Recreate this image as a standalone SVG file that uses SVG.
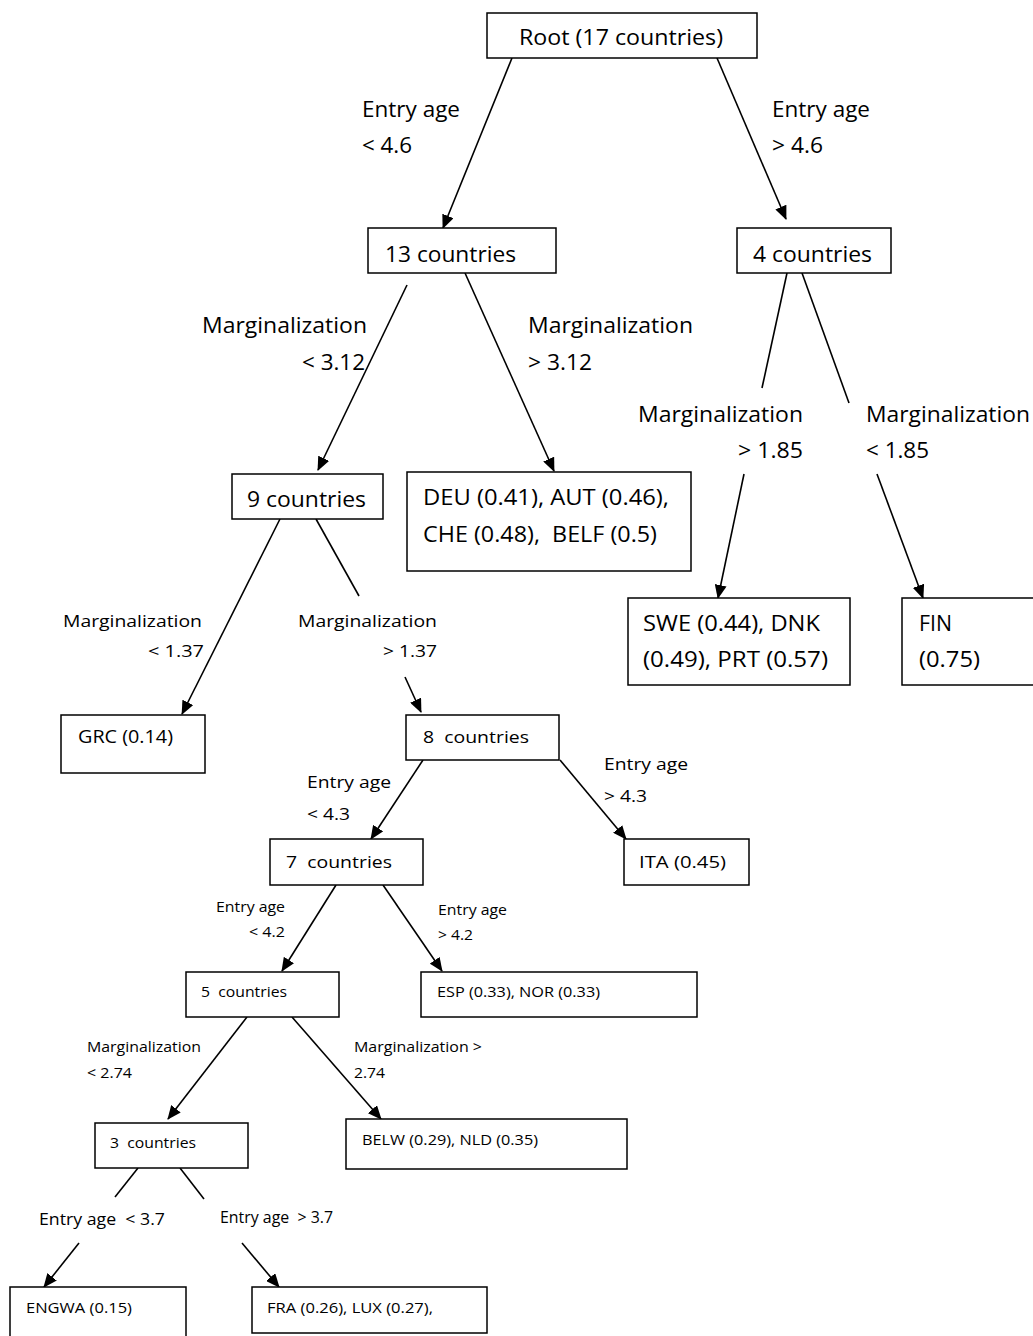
<svg xmlns="http://www.w3.org/2000/svg" width="1033" height="1336" viewBox="0 0 1033 1336">
<style>
rect.box{fill:#fff;stroke:#000;stroke-width:1.5}
text{font-family:"Open Sans","Liberation Sans",sans-serif;fill:#000;white-space:pre}
.l{font-size:22px}
.m{font-size:17px}
.s{font-size:15px}
#connectors line{stroke:#000;stroke-width:1.6}
line.a{marker-end:url(#arr)}
</style>
<defs>
<marker id="arr" markerUnits="userSpaceOnUse" markerWidth="14" markerHeight="12" viewBox="0 0 14 12" refX="13" refY="6" orient="auto">
<path d="M0,0 L14,6 L0,12 z" fill="#000"/>
</marker>
</defs>
<rect width="1033" height="1336" fill="#fff"/>
<g id="connectors">
<line class="a" x1="512" y1="58" x2="443" y2="228"/>
<line class="a" x1="717" y1="58" x2="786" y2="219"/>
<line class="a" x1="407" y1="285" x2="318" y2="470"/>
<line class="a" x1="465" y1="273" x2="554" y2="471"/>
<line x1="787" y1="273" x2="762" y2="388"/>
<line class="a" x1="744" y1="474" x2="718" y2="598"/>
<line x1="802" y1="273" x2="849" y2="403"/>
<line class="a" x1="877" y1="474" x2="923" y2="598"/>
<line class="a" x1="280" y1="519" x2="182" y2="714"/>
<line x1="316" y1="519" x2="359" y2="596"/>
<line class="a" x1="405" y1="677" x2="421" y2="712"/>
<line class="a" x1="423" y1="760" x2="371" y2="839"/>
<line class="a" x1="560" y1="760" x2="626" y2="839"/>
<line class="a" x1="336" y1="885" x2="282" y2="971"/>
<line class="a" x1="383" y1="885" x2="442" y2="971"/>
<line class="a" x1="247" y1="1017" x2="168" y2="1119"/>
<line class="a" x1="292" y1="1017" x2="381" y2="1119"/>
<line x1="138" y1="1168" x2="115" y2="1197"/>
<line x1="180" y1="1168" x2="204" y2="1199"/>
<line class="a" x1="79" y1="1243" x2="44" y2="1287"/>
<line class="a" x1="242" y1="1243" x2="279" y2="1287"/>
</g>
<g id="edge-labels">
<text class="l" x="362" y="117" textLength="98" lengthAdjust="spacingAndGlyphs">Entry age</text>
<text class="l" x="362" y="153" textLength="50" lengthAdjust="spacingAndGlyphs">&lt; 4.6</text>
<text class="l" x="772" y="117" textLength="98" lengthAdjust="spacingAndGlyphs">Entry age</text>
<text class="l" x="772" y="153" textLength="51" lengthAdjust="spacingAndGlyphs">&gt; 4.6</text>
<text class="l" x="202" y="333" textLength="165" lengthAdjust="spacingAndGlyphs">Marginalization</text>
<text class="l" x="302" y="370" textLength="63" lengthAdjust="spacingAndGlyphs">&lt; 3.12</text>
<text class="l" x="528" y="333" textLength="165" lengthAdjust="spacingAndGlyphs">Marginalization</text>
<text class="l" x="528" y="370" textLength="64" lengthAdjust="spacingAndGlyphs">&gt; 3.12</text>
<text class="l" x="638" y="422" textLength="165" lengthAdjust="spacingAndGlyphs">Marginalization</text>
<text class="l" x="738" y="458" textLength="65" lengthAdjust="spacingAndGlyphs">&gt; 1.85</text>
<text class="l" x="866" y="422" textLength="164" lengthAdjust="spacingAndGlyphs">Marginalization</text>
<text class="l" x="866" y="458" textLength="63" lengthAdjust="spacingAndGlyphs">&lt; 1.85</text>
<text class="m" x="63" y="627" textLength="139" lengthAdjust="spacingAndGlyphs">Marginalization</text>
<text class="m" x="148" y="657" textLength="56" lengthAdjust="spacingAndGlyphs">&lt; 1.37</text>
<text class="m" x="298" y="627" textLength="139" lengthAdjust="spacingAndGlyphs">Marginalization</text>
<text class="m" x="383" y="657" textLength="54" lengthAdjust="spacingAndGlyphs">&gt; 1.37</text>
<text class="m" x="307" y="788" textLength="84" lengthAdjust="spacingAndGlyphs">Entry age</text>
<text class="m" x="307" y="820" textLength="43" lengthAdjust="spacingAndGlyphs">&lt; 4.3</text>
<text class="m" x="604" y="770" textLength="84" lengthAdjust="spacingAndGlyphs">Entry age</text>
<text class="m" x="604" y="802" textLength="43" lengthAdjust="spacingAndGlyphs">&gt; 4.3</text>
<text class="s" x="216" y="912" textLength="69" lengthAdjust="spacingAndGlyphs">Entry age</text>
<text class="s" x="249" y="937" textLength="36" lengthAdjust="spacingAndGlyphs">&lt; 4.2</text>
<text class="s" x="438" y="915" textLength="69" lengthAdjust="spacingAndGlyphs">Entry age</text>
<text class="s" x="438" y="940" textLength="35" lengthAdjust="spacingAndGlyphs">&gt; 4.2</text>
<text class="s" x="87" y="1052" textLength="114" lengthAdjust="spacingAndGlyphs">Marginalization</text>
<text class="s" x="87" y="1078" textLength="45" lengthAdjust="spacingAndGlyphs">&lt; 2.74</text>
<text class="s" x="354" y="1052" textLength="128" lengthAdjust="spacingAndGlyphs">Marginalization &gt;</text>
<text class="s" x="354" y="1078" textLength="31" lengthAdjust="spacingAndGlyphs">2.74</text>
<text class="m" x="39" y="1225" textLength="126" lengthAdjust="spacingAndGlyphs">Entry age  &lt; 3.7</text>
<text class="m" x="220" y="1223" textLength="113" lengthAdjust="spacingAndGlyphs" style="font-size:16px">Entry age  &gt; 3.7</text>
</g>
<g id="root"><rect class="box" x="487" y="13" width="270" height="45"/><text class="l" x="519" y="45" textLength="204" lengthAdjust="spacingAndGlyphs">Root (17 countries)</text></g>
<g id="n13"><rect class="box" x="368" y="228" width="188" height="45"/><text class="l" x="385" y="262" textLength="131" lengthAdjust="spacingAndGlyphs">13 countries</text></g>
<g id="n4"><rect class="box" x="737" y="228" width="154" height="45"/><text class="l" x="753" y="262" textLength="119" lengthAdjust="spacingAndGlyphs">4 countries</text></g>
<g id="n9"><rect class="box" x="232" y="474" width="151" height="45"/><text class="l" x="247" y="507" textLength="119" lengthAdjust="spacingAndGlyphs">9 countries</text></g>
<g id="deu"><rect class="box" x="407" y="472" width="284" height="99"/><text class="l" x="423" y="505" textLength="246" lengthAdjust="spacingAndGlyphs">DEU (0.41), AUT (0.46),</text><text class="l" x="423" y="542" textLength="234" lengthAdjust="spacingAndGlyphs">CHE (0.48),  BELF (0.5)</text></g>
<g id="swe"><rect class="box" x="628" y="598" width="222" height="87"/><text class="l" x="643" y="631" textLength="177" lengthAdjust="spacingAndGlyphs">SWE (0.44), DNK</text><text class="l" x="643" y="667" textLength="185" lengthAdjust="spacingAndGlyphs">(0.49), PRT (0.57)</text></g>
<g id="fin"><rect class="box" x="902" y="598" width="140" height="87"/><text class="l" x="919" y="631" textLength="33" lengthAdjust="spacingAndGlyphs">FIN</text><text class="l" x="919" y="667" textLength="61" lengthAdjust="spacingAndGlyphs">(0.75)</text></g>
<g id="grc"><rect class="box" x="61" y="715" width="144" height="58"/><text class="m" x="78" y="743" textLength="95" lengthAdjust="spacingAndGlyphs" style="font-size:18px">GRC (0.14)</text></g>
<g id="n8"><rect class="box" x="406" y="715" width="153" height="45"/><text class="m" x="423" y="743" textLength="106" lengthAdjust="spacingAndGlyphs">8  countries</text></g>
<g id="n7"><rect class="box" x="270" y="839" width="153" height="46"/><text class="m" x="286" y="868" textLength="106" lengthAdjust="spacingAndGlyphs">7  countries</text></g>
<g id="ita"><rect class="box" x="624" y="839" width="125" height="46"/><text class="m" x="639" y="868" textLength="87" lengthAdjust="spacingAndGlyphs">ITA (0.45)</text></g>
<g id="n5"><rect class="box" x="186" y="972" width="153" height="45"/><text class="s" x="201" y="997" textLength="86" lengthAdjust="spacingAndGlyphs">5  countries</text></g>
<g id="esp"><rect class="box" x="421" y="972" width="276" height="45"/><text class="s" x="437" y="997" textLength="163" lengthAdjust="spacingAndGlyphs">ESP (0.33), NOR (0.33)</text></g>
<g id="n3"><rect class="box" x="95" y="1123" width="153" height="45"/><text class="s" x="110" y="1148" textLength="86" lengthAdjust="spacingAndGlyphs">3  countries</text></g>
<g id="belw"><rect class="box" x="346" y="1119" width="281" height="50"/><text class="s" x="362" y="1145" textLength="176" lengthAdjust="spacingAndGlyphs">BELW (0.29), NLD (0.35)</text></g>
<g id="engwa"><rect class="box" x="10" y="1287" width="176" height="60"/><text class="s" x="26" y="1313" textLength="106" lengthAdjust="spacingAndGlyphs">ENGWA (0.15)</text></g>
<g id="fra"><rect class="box" x="252" y="1287" width="235" height="46"/><text class="s" x="267" y="1313" textLength="166" lengthAdjust="spacingAndGlyphs">FRA (0.26), LUX (0.27),</text></g>
</svg>
